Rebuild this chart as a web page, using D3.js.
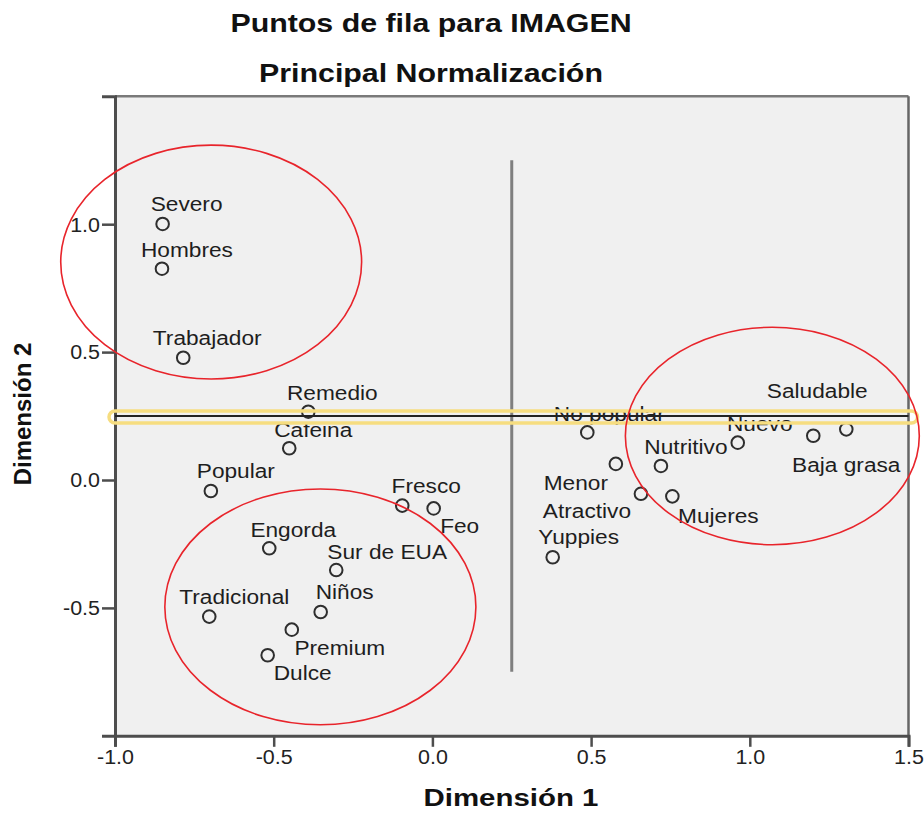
<!DOCTYPE html>
<html>
<head>
<meta charset="utf-8">
<script src="https://d3js.org/d3.v7.min.js"></script>
<style>
  html, body { margin: 0; padding: 0; background: #ffffff; }
  svg { display: block; font-family: "Liberation Sans", Arial, sans-serif; }
</style>
</head>
<body>
<svg id="chart" width="924" height="813"></svg>
<script>
// ---------- data ----------
const categories = ["Severo","Hombres","Trabajador","Remedio","Cafeina","Popular","Fresco","Feo",
  "Engorda","Sur de EUA","Niños","Tradicional","Premium","Dulce",
  "No popular","Menor","Nutritivo","Atractivo","Mujeres","Yuppies","Nuevo","Saludable","Baja grasa"];
const dim1 = [-0.850,-0.852,-0.785,-0.391,-0.451,-0.698,-0.095,0.004,
  -0.514,-0.303,-0.352,-0.703,-0.443,-0.519,
  0.488,0.578,0.720,0.657,0.756,0.379,0.962,1.304,1.200];
const dim2 = [1.001,0.826,0.478,0.267,0.124,-0.043,-0.100,-0.111,
  -0.267,-0.352,-0.516,-0.534,-0.585,-0.685,
  0.186,0.063,0.055,-0.054,-0.064,-0.302,0.146,0.198,0.173];
const xTicks = [-1.0,-0.5,0.0,0.5,1.0,1.5];
const yTicks = [-0.5,0.0,0.5,1.0];
const titleLines = ["Puntos de fila para IMAGEN","Principal Normalización"];
const xTitle = "Dimensión 1";
const yTitle = "Dimensión 2";
// reference lines (data units)
const refLineX = 0.25;
const refLineY = 0.25;
const refLineXSpan = [-0.75, 1.25];
// annotation ellipses (data units)
const ellipseCx = [-0.697,-0.353,1.071];
const ellipseCy = [0.852,-0.496,0.172];
const ellipseRx = [0.474,0.490,0.463];
const ellipseRy = [0.457,0.461,0.425];

// ---------- layout (pixels) ----------
const labelDx = [24,25,24,24,24,25,24,26, 24,51,24,25,48,35, 22,-40,25,-54,46,26,22,-29,33];
const labelDy = [-20,-19,-20,-19,-18,-20,-20,17, -19,-18,-20,-20,18,18, -19,19,-19,17,19,-20,-19,-39,29];

const svg = d3.select("#chart");
const x = d3.scaleLinear().domain([-1, 1.5]).range([115, 908.5]);
const y = d3.scaleLinear().domain([-1, 1.5]).range([735.8, 96.3]);
const FONT = '"Liberation Sans", Arial, sans-serif';

function stretch(sel, s) {
  sel.attr("transform", function() {
    const tx = +d3.select(this).attr("x") || 0;
    return `translate(${tx},0) scale(${s},1) translate(${-tx},0)`;
  });
}

// titles
svg.selectAll("text.title").data(titleLines).join("text")
  .attr("class","title")
  .attr("x", 431).attr("y", (d,i) => i === 0 ? 32 : 82)
  .attr("text-anchor","middle")
  .attr("font-size", 25.5).attr("font-weight","bold").attr("fill","#111")
  .text(d => d)
  .call(stretch, 1.19);

// plot background and frame
svg.append("rect")
  .attr("x", x(-1)).attr("y", y(1.5))
  .attr("width", x(1.5) - x(-1)).attr("height", y(-1) - y(1.5))
  .attr("fill", "#f0f0f0");
svg.append("line").attr("x1", x(-1)).attr("x2", x(1.5)).attr("y1", y(1.5)).attr("y2", y(1.5))
  .attr("stroke", "#7a7a7a").attr("stroke-width", 2.5);
svg.append("line").attr("x1", x(1.5)).attr("x2", x(1.5)).attr("y1", y(1.5)).attr("y2", y(-1))
  .attr("stroke", "#666").attr("stroke-width", 2.5);

// vertical reference line
svg.append("line")
  .attr("x1", x(refLineX)).attr("x2", x(refLineX))
  .attr("y1", y(refLineXSpan[1])).attr("y2", y(refLineXSpan[0]))
  .attr("stroke", "#7f7f7f").attr("stroke-width", 3);

// axes
const gx = svg.append("g").attr("transform", `translate(0,${y(-1)})`)
  .call(d3.axisBottom(x).tickValues(xTicks).tickSize(11).tickPadding(3).tickFormat(d => d.toFixed(1)));
const gy = svg.append("g").attr("transform", `translate(${x(-1)},0)`)
  .call(d3.axisLeft(y).tickValues(yTicks).tickSize(13).tickPadding(2).tickFormat(d => d.toFixed(1)));
[gx, gy].forEach(g => {
  g.select(".domain").attr("stroke", "#4d4d4d").attr("stroke-width", 3);
  g.selectAll(".tick line").attr("stroke", "#4d4d4d").attr("stroke-width", 2.5);
  g.selectAll(".tick text").attr("font-family", FONT).attr("font-size", 19.5).attr("fill", "#222")
    .call(stretch, 1.1);
});
gy.selectAll(".tick text").attr("dy", "0.35em");

// axis titles
svg.append("text").attr("x", 511).attr("y", 806)
  .attr("text-anchor","middle").attr("font-size", 23).attr("font-weight","bold").attr("fill","#111")
  .text(xTitle).call(stretch, 1.28);
svg.append("text")
  .attr("transform", `translate(31,414) rotate(-90)`)
  .attr("text-anchor","middle").attr("font-size", 24).attr("font-weight","bold").attr("fill","#111")
  .text(yTitle);

// points
const pts = categories.map((c,i) => ({c, x: dim1[i], y: dim2[i], dx: labelDx[i], dy: labelDy[i]}));
svg.selectAll("circle.pt").data(pts).join("circle")
  .attr("class","pt")
  .attr("cx", d => x(d.x)).attr("cy", d => y(d.y)).attr("r", 6.3)
  .attr("fill", "none").attr("stroke", "#2e2e2e").attr("stroke-width", 2);

// labels
svg.selectAll("text.lbl").data(pts).join("text")
  .attr("class","lbl")
  .attr("x", d => x(d.x) + d.dx).attr("y", d => y(d.y) + d.dy)
  .attr("text-anchor","middle").attr("dominant-baseline","central")
  .attr("font-size", 21).attr("fill", "#1e1e1e")
  .text(d => d.c)
  .call(stretch, 1.08);

// horizontal reference line with highlight band
svg.append("line")
  .attr("x1", x(-1)).attr("x2", x(1.5))
  .attr("y1", y(refLineY)).attr("y2", y(refLineY))
  .attr("stroke", "#222").attr("stroke-width", 2);
svg.append("rect")
  .attr("x", x(-1) - 6).attr("y", y(refLineY) - 5)
  .attr("width", x(1.5) - x(-1) + 15).attr("height", 12)
  .attr("rx", 6).attr("ry", 6)
  .attr("fill", "none").attr("stroke", "#f6dd80").attr("stroke-width", 3.5);

// red ellipses
svg.selectAll("ellipse.grp").data(ellipseCx.map((cx,i) => ({cx, cy: ellipseCy[i], rx: ellipseRx[i], ry: ellipseRy[i]})))
  .join("ellipse").attr("class","grp")
  .attr("cx", d => x(d.cx)).attr("cy", d => y(d.cy))
  .attr("rx", d => x(d.cx + d.rx) - x(d.cx)).attr("ry", d => y(d.cy) - y(d.cy + d.ry))
  .attr("fill", "none").attr("stroke", "#e8242b").attr("stroke-width", 1.6);
</script>
</body>
</html>
